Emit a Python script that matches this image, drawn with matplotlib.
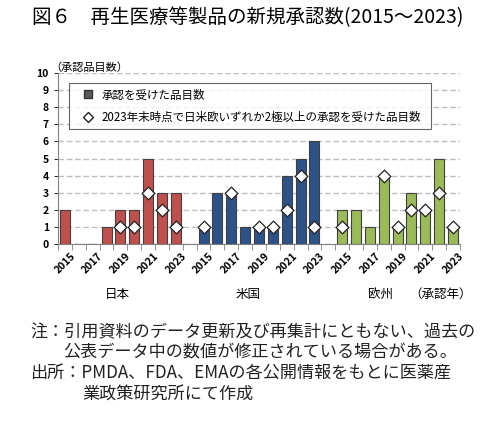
import numpy as np
import matplotlib.pyplot as plt
from matplotlib.lines import Line2D

plt.rcParams['font.family'] = ['Noto Sans CJK JP', 'DejaVu Sans']

# Data
years = [2015, 2016, 2017, 2018, 2019, 2020, 2021, 2022, 2023]
regions = ['日本', '米国', '欧州']
approved_jp = [2, 0, 0, 1, 2, 2, 5, 3, 3]
approved_us = [1, 3, 3, 1, 1, 1, 4, 5, 6]
approved_eu = [2, 2, 1, 4, 1, 3, 2, 5, 1]
multi_jp = [None, None, None, None, 1, 1, 3, 2, 1]
multi_us = [1, None, 3, None, 1, 1, 2, 4, 1]
multi_eu = [1, None, None, 4, 1, 2, 2, 3, 1]
colors = ['#C0504D', '#2C5288', '#9BBB59']

fig = plt.figure(figsize=(5, 4.25), dpi=100)
ax = fig.add_axes([0.116, 0.426, 0.804, 0.402])

approved = [approved_jp, approved_us, approved_eu]
multi = [multi_jp, multi_us, multi_eu]
region_x = [3.8, 13.2, 22.8]
tick_pos, tick_lab = [], []
for g in range(3):
    x = np.arange(len(years)) + g * (len(years) + 1)
    ax.bar(x, approved[g], width=0.72, color=colors[g], edgecolor='#404040',
           linewidth=0.8, zorder=3)
    mx = [xi for xi, v in zip(x, multi[g]) if v is not None]
    my = [v for v in multi[g] if v is not None]
    ax.scatter(mx, my, marker='D', s=42, facecolor='white', edgecolor='#222222',
               linewidth=0.9, zorder=4)
    for xi, yr in zip(x, years):
        if yr % 2 == 1:
            tick_pos.append(xi)
            tick_lab.append(str(yr))
    ax.text(region_x[g], -2.95, regions[g], ha='center', va='center', fontsize=9)
ax.text(27.1, -2.95, '（承認年）', ha='center', va='center', fontsize=9)

ax.set_xlim(-0.5, 28.5)
ax.set_ylim(0, 10)
ax.set_yticks(range(0, 11))
ax.tick_params(axis='y', labelsize=7.5, length=3, width=0.6)
ax.set_xticks(tick_pos)
ax.set_xticklabels(tick_lab, rotation=45, fontsize=7.5, fontweight='bold')
ax.set_xticks(np.arange(-0.5, 29, 1), minor=True)
ax.tick_params(axis='x', which='major', length=0, pad=5)
ax.tick_params(axis='x', which='minor', length=4, width=0.6, color='#808080')
for lbl in ax.get_yticklabels():
    lbl.set_fontweight('bold')
ax.grid(axis='y', linestyle=(0, (4, 2)), color='#BFBFBF', linewidth=1.0, zorder=0)
for s in ['top', 'right']:
    ax.spines[s].set_visible(False)
ax.spines['left'].set_color('#808080')
ax.spines['bottom'].set_color('#808080')

handles = [
    Line2D([], [], marker='s', linestyle='none', markerfacecolor='#595959',
           markeredgecolor='#333333', markersize=6),
    Line2D([], [], marker='D', linestyle='none', markerfacecolor='white',
           markeredgecolor='#222222', markersize=5),
]
labels = ['承認を受けた品目数', '2023年末時点で日米欧いずれか2極以上の承認を受けた品目数']
leg = ax.legend(handles, labels, loc='upper left',
                bbox_to_anchor=(0.012, 0.975, 0.93, 0.0), mode='expand',
                fontsize=8.3, frameon=True, fancybox=False, edgecolor='#404040',
                handletextpad=0.0, borderpad=0.45, labelspacing=0.85,
                handlelength=2.4)
leg.get_frame().set_linewidth(0.8)
leg.set_zorder(5)

fig.text(0.1, 0.842, '（承認品目数）', fontsize=8, ha='left', va='center')

fig.text(0.064, 0.958, '図６　再生医療等製品の新規承認数(2015～2023)',
         fontsize=14, ha='left', va='center')

notes = [
    (0.06, 0.218, '注：引用資料のデータ更新及び再集計にともない、過去の'),
    (0.126, 0.170, '公表データ中の数値が修正されている場合がある。'),
    (0.06, 0.120, '出所：PMDA、FDA、EMAの各公開情報をもとに医薬産'),
    (0.164, 0.071, '業政策研究所にて作成'),
]
for x0, y0, t in notes:
    fig.text(x0, y0, t, fontsize=12.3, ha='left', va='center', color='#222222')

fig.savefig('out.png', dpi=100)
